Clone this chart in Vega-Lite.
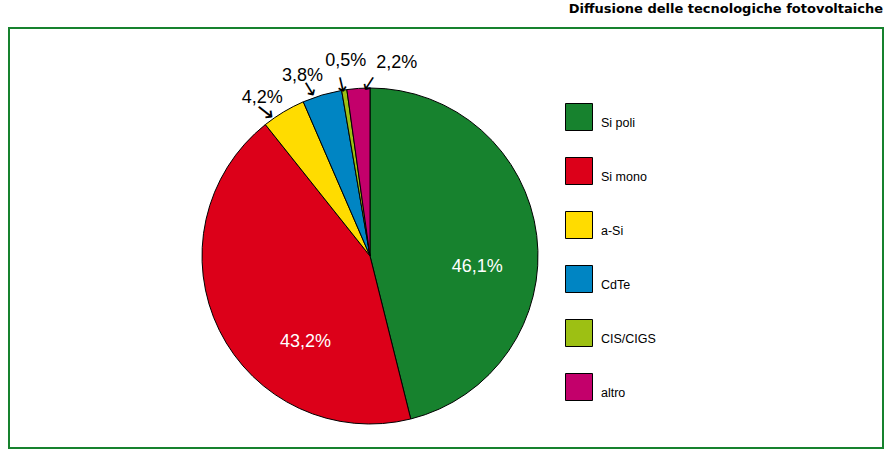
{
  "$schema": "https://vega.github.io/schema/vega-lite/v6.json",
  "width": 874,
  "height": 420,
  "autosize": {"type": "none"},
  "padding": {"left": 9, "top": 28, "right": 7, "bottom": 9},
  "background": "white",
  "config": {"view": {"stroke": null}, "font": "Liberation Sans"},
  "title": {"text": "Diffusione delle tecnologiche fotovoltaiche", "anchor": "end", "frame": "group", "font": "DejaVu Sans", "fontSize": 13, "fontWeight": "bold", "color": "black", "baseline": "alphabetic", "offset": 14, "dy": 13},
  "data": {"values": [
    {"cat": "Si poli", "pct": 46.1, "label": "46,1%", "i": 1},
    {"cat": "Si mono", "pct": 43.2, "label": "43,2%", "i": 2},
    {"cat": "a-Si", "pct": 4.2, "label": "4,2%", "i": 3},
    {"cat": "CdTe", "pct": 3.8, "label": "3,8%", "i": 4},
    {"cat": "CIS/CIGS", "pct": 0.5, "label": "0,5%", "i": 5},
    {"cat": "altro", "pct": 2.2, "label": "2,2%", "i": 6}
  ]},
  "layer": [
    {
      "mark": {"type": "rect", "fill": null, "filled": false, "stroke": "#17822e", "strokeWidth": 2},
      "encoding": {}
    },
    {
      "encoding": {
        "theta": {"field": "pct", "type": "quantitative", "stack": true},
        "order": {"field": "i", "type": "quantitative"}
      },
      "layer": [
        {
          "mark": {"type": "arc", "x": 361, "y": 228, "radius": 168, "stroke": "black", "strokeWidth": 1},
          "encoding": {
            "color": {
              "field": "cat", "type": "nominal",
              "scale": {"domain": ["Si poli", "Si mono", "a-Si", "CdTe", "CIS/CIGS", "altro"], "range": ["#17822e", "#dc0019", "#ffdc00", "#0085c3", "#9dc013", "#c3006b"]},
              "legend": {"orient": "none", "legendX": 556, "legendY": 75, "title": null, "symbolType": "square", "symbolSize": 729, "symbolStrokeColor": "black", "symbolStrokeWidth": 1, "symbolOpacity": 1, "rowPadding": 22, "labelOffset": 8, "labelFontSize": 12.5, "labelFont": "Liberation Sans", "labelBaseline": "top", "labelColor": "black", "padding": 0}
            }
          }
        },
        {
          "mark": {"type": "text", "x": 361, "y": 228, "radius": 108, "dy": 24, "fontSize": 18, "fill": "white", "align": "center", "baseline": "middle"},
          "encoding": {"text": {"condition": {"test": "datum.cat === 'Si poli'", "field": "label"}, "value": ""}}
        },
        {
          "mark": {"type": "text", "x": 361, "y": 228, "radius": 72, "dy": 54, "fontSize": 18, "fill": "white", "align": "center", "baseline": "middle"},
          "encoding": {"text": {"condition": {"test": "datum.cat === 'Si mono'", "field": "label"}, "value": ""}}
        },
        {
          "mark": {"type": "text", "x": 361, "y": 228, "radius": 184, "dx": -13, "fontSize": 18, "fill": "black", "align": "center", "baseline": "middle"},
          "encoding": {"text": {"condition": {"test": "datum.cat === 'a-Si'", "field": "label"}, "value": ""}}
        },
        {
          "mark": {"type": "text", "x": 361, "y": 228, "radius": 188, "dx": -14, "fontSize": 18, "fill": "black", "align": "center", "baseline": "middle"},
          "encoding": {"text": {"condition": {"test": "datum.cat === 'CdTe'", "field": "label"}, "value": ""}}
        },
        {
          "mark": {"type": "text", "x": 361, "y": 228, "radius": 197, "dx": 6, "fontSize": 18, "fill": "black", "align": "center", "baseline": "middle"},
          "encoding": {"text": {"condition": {"test": "datum.cat === 'CIS/CIGS'", "field": "label"}, "value": ""}}
        },
        {
          "mark": {"type": "text", "x": 361, "y": 228, "radius": 193, "dx": 40, "fontSize": 18, "fill": "black", "align": "center", "baseline": "middle"},
          "encoding": {"text": {"condition": {"test": "datum.cat === 'altro'", "field": "label"}, "value": ""}}
        },
        {
          "mark": {"type": "text", "x": 361, "y": 228, "radius": 175, "angle": 37.6, "dx": -8, "dy": 14, "font": "DejaVu Sans", "fontSize": 23, "fill": "black", "align": "center", "baseline": "middle", "text": "→"},
          "encoding": {"opacity": {"condition": {"test": "datum.cat === 'a-Si'", "value": 1}, "value": 0}}
        },
        {
          "mark": {"type": "text", "x": 361, "y": 228, "radius": 176, "angle": 58.8, "dx": -4, "dy": 10, "font": "DejaVu Sans", "fontSize": 20, "fill": "black", "align": "center", "baseline": "middle", "text": "→"},
          "encoding": {"opacity": {"condition": {"test": "datum.cat === 'CdTe'", "value": 1}, "value": 0}}
        },
        {
          "mark": {"type": "text", "x": 361, "y": 228, "radius": 174, "angle": 76.7, "dx": 0, "dy": 2, "font": "DejaVu Sans", "fontSize": 20, "fill": "black", "align": "center", "baseline": "middle", "text": "→"},
          "encoding": {"opacity": {"condition": {"test": "datum.cat === 'CIS/CIGS'", "value": 1}, "value": 0}}
        },
        {
          "mark": {"type": "text", "x": 361, "y": 228, "radius": 173, "angle": 123, "dx": -6, "dy": -9, "font": "DejaVu Sans", "fontSize": 20, "fill": "black", "align": "center", "baseline": "middle", "text": "→"},
          "encoding": {"opacity": {"condition": {"test": "datum.cat === 'altro'", "value": 1}, "value": 0}}
        }
      ]
    }
  ]
}
